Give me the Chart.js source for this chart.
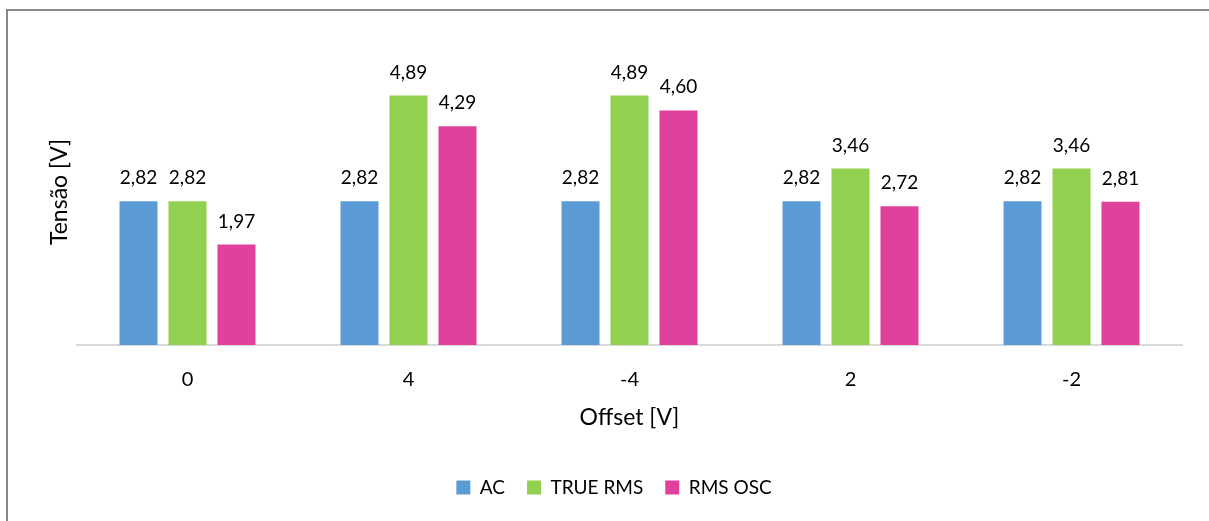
<!DOCTYPE html>
<html>
<head>
<meta charset="utf-8">
<script src="https://cdn.jsdelivr.net/npm/chart.js@4/dist/chart.umd.min.js"></script>
<style>
  html, body { margin: 0; padding: 0; background: #fff; }
  #wrap { position: relative; width: 1209px; height: 521px; overflow: hidden; }
  #frame {
    position: absolute; left: 6px; top: 9px; width: 1300px; height: 600px;
    border-top: 2px solid #888; border-left: 2px solid #888;
    pointer-events: none;
  }
  canvas { position: absolute; left: 0; top: 0; }
</style>
</head>
<body>
<div id="wrap">
  <canvas id="chart" width="1209" height="521"></canvas>
  <div id="frame"></div>
</div>
<script>
const categories = ['0', '4', '-4', '2', '-2'];
const acValues = [2.82, 2.82, 2.82, 2.82, 2.82];
const trueRmsValues = [2.82, 4.89, 4.89, 3.46, 3.46];
const rmsOscValues = [1.97, 4.29, 4.60, 2.72, 2.81];
const seriesNames = ['AC', 'TRUE RMS', 'RMS OSC'];
const seriesColors = ['#5B9BD5', '#92D050', '#DF419D'];

Chart.defaults.font.family = 'Lato, "Open Sans", sans-serif';
Chart.defaults.color = '#000';

// draws the value above each bar, with a comma as decimal mark
const barValueLabels = {
    id: 'barValueLabels',
    afterDatasetsDraw(chart) {
        const ctx = chart.ctx;
        ctx.save();
        ctx.font = '19px Lato, "Open Sans", sans-serif';
        ctx.fillStyle = '#000';
        ctx.textAlign = 'center';
        ctx.textBaseline = 'alphabetic';
        chart.data.datasets.forEach(function (ds, i) {
            const meta = chart.getDatasetMeta(i);
            meta.data.forEach(function (bar, j) {
                const txt = ds.data[j].toFixed(2).replace('.', ',');
                ctx.fillText(txt, bar.x, bar.y - 17);
            });
        });
        ctx.restore();
    }
};

const ctx = document.getElementById('chart').getContext('2d');
new Chart(ctx, {
    type: 'bar',
    data: {
        labels: categories,
        datasets: [acValues, trueRmsValues, rmsOscValues].map(function (vals, i) {
            return {
                label: seriesNames[i],
                data: vals,
                backgroundColor: seriesColors[i],
                categoryPercentage: 0.665,
                barPercentage: 0.776
            };
        })
    },
    options: {
        responsive: false,
        animation: false,
        layout: { padding: { top: 39, right: 27, bottom: 14, left: 46 } },
        plugins: {
            tooltip: { enabled: false },
            legend: {
                position: 'bottom',
                labels: {
                    boxWidth: 14,
                    boxHeight: 14,
                    padding: 22,
                    font: { size: 19 }
                }
            }
        },
        scales: {
            x: {
                grid: { display: false, drawTicks: false },
                border: { display: true, color: '#d9d9d9', width: 2 },
                ticks: { padding: 23, font: { size: 20 } },
                title: {
                    display: true,
                    text: 'Offset [V]',
                    font: { size: 23 },
                    padding: { top: 0, bottom: 25 }
                },
                afterFit(scale) { scale.height = 111; }
            },
            y: {
                min: 0,
                max: 6,
                grid: { display: false, drawTicks: false },
                border: { display: false },
                ticks: { display: false },
                title: {
                    display: true,
                    text: 'Tensão [V]',
                    font: { size: 23 },
                    padding: { top: 0, bottom: 0 }
                },
                afterFit(scale) { scale.width = 31; }
            }
        }
    },
    plugins: [barValueLabels]
});
</script>
</body>
</html>
